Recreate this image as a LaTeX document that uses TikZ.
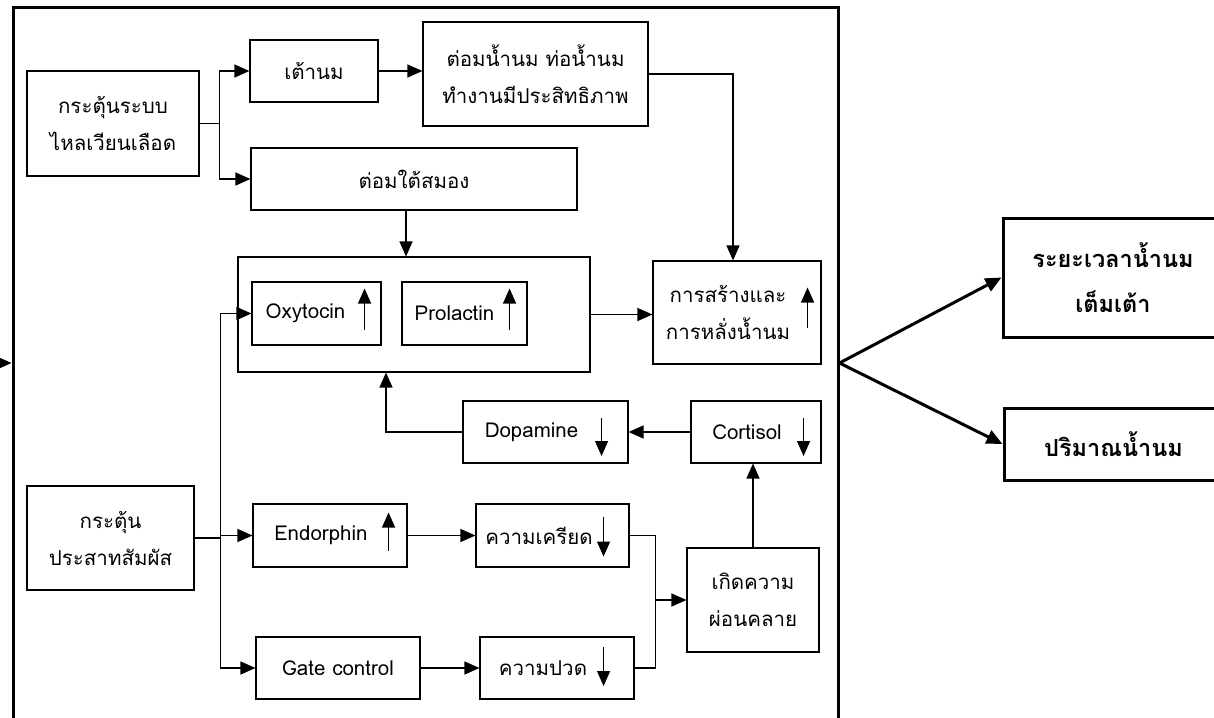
\documentclass[tikz,border=0pt]{standalone}
\usepackage{fontspec}
\newfontfamily\thai[Script=Thai]{Loma}
\usetikzlibrary{arrows.meta,calc}
\begin{document}
\begin{tikzpicture}[x=1pt,y=-1pt,
  every node/.style={font=\thai\fontsize{20.5}{37}\selectfont},
  box/.style={draw,line width=1.1pt,inner sep=0pt},
  box2/.style={box,align=center},
  ln/.style={line width=1.1pt},
  arr/.style={line width=1.2pt,-{Triangle[length=15pt,width=13pt]}},
  big/.style={draw,line width=3pt,inner sep=0pt,align=center,font=\thai\bfseries\fontsize{23.5}{45}\selectfont},
  bigarr/.style={line width=3pt,-{Triangle[length=16pt,width=14pt]}}]
\useasboundingbox (0,0) rectangle (1214,717);

% outer frame (bottom edge lies outside the picture)
\node[draw,line width=3pt,inner sep=0pt,minimum width=825pt,minimum height=780pt] (frame) at (425.5,398) {};

% boxes
\node[box2,minimum width=172pt,minimum height=105pt] (A) at (113,123.5) {กระตุ้นระบบ\\ไหลเวียนเลือด};
\node[box,minimum width=128pt,minimum height=62pt] (teanom) at (314,71) {เต้านม};
\node[box2,minimum width=225pt,minimum height=104pt] (tom) at (535.5,74) {ต่อมน้ำนม ท่อน้ำนม\\ทำงานมีประสิทธิภาพ};
\node[box,minimum width=326pt,minimum height=62pt] (tai) at (414,179) {ต่อมใต้สมอง};
\node[box,minimum width=352pt,minimum height=115pt] (grp) at (414,314.5) {};
\node[box,minimum width=129pt,minimum height=63pt] (oxy) at (316.5,313.5) {Oxytocin\kern22pt};
\node[box,minimum width=125pt,minimum height=63pt] (pro) at (464.5,313.5) {Prolactin\kern20pt};
\node[box2,minimum width=168pt,minimum height=103pt] (sang) at (737,312.5) {การสร้างและ\kern18pt\\การหลั่งน้ำนม\kern18pt};
\node[box,minimum width=165pt,minimum height=62pt] (dopa) at (545.5,432) {Dopamine\kern28pt};
\node[box,minimum width=130pt,minimum height=62pt] (cort) at (756,432) {Cortisol\kern18pt};
\node[box2,minimum width=167pt,minimum height=104pt] (B) at (110.5,538) {กระตุ้น\\ประสาทสัมผัส};
\node[box,minimum width=154pt,minimum height=63pt] (endo) at (330,535.5) {Endorphin\kern18pt};
\node[box,minimum width=153pt,minimum height=63pt] (krieat) at (552.5,535.5) {ความเครียด\kern27pt};
\node[box2,minimum width=132pt,minimum height=104pt] (kerd) at (753,600) {เกิดความ\\ผ่อนคลาย};
\node[box,minimum width=164pt,minimum height=62pt] (gate) at (338,668) {Gate control};
\node[box,minimum width=154pt,minimum height=62pt] (puat) at (557,668) {ความปวด\kern28pt};
\node[big,minimum width=220pt,minimum height=119pt] (out1) at (1113,277.5) {ระยะเวลาน้ำนม\\เต็มเต้า};
\node[big,minimum width=219pt,minimum height=72pt] (out2) at (1113.5,444) {ปริมาณน้ำนม};

% up / down marks inside boxes
\draw[arr] ($(oxy.east)+(-17,16)$) -- ++(0,-41);
\draw[arr] ($(pro.east)+(-18,16)$) -- ++(0,-41);
\draw[arr] ($(sang.east)+(-14,15)$) -- ++(0,-40);
\draw[arr] ($(dopa.east)+(-27,-14)$) -- ++(0,38);
\draw[arr] ($(cort.east)+(-18,-14)$) -- ++(0,38);
\draw[arr] ($(endo.east)+(-19,15)$) -- ++(0,-38);
\draw[arr] ($(krieat.east)+(-26,-19)$) -- ++(0,40);
\draw[arr] ($(puat.east)+(-31,-21)$) -- ++(0,39);

% connectors: circulation branch
\draw[ln] (A.east) -- ++(20,0) coordinate (b1);
\draw[arr] (b1) |- (teanom.west);
\draw[arr] (b1) |- (tai.west);
\draw[arr] (teanom.east) -- (teanom.east -| tom.west);
\draw[arr] (tom.east) -| ([xshift=-4pt]sang.north);
\draw[arr] ([xshift=-8pt]tai.south) -- ([xshift=-8pt]grp.north);
\draw[arr] (grp.east) -- (grp.east -| sang.west);
\draw[arr] (cort.west) -- (dopa.east);
\draw[arr] (dopa.west) -| ([xshift=-28pt]grp.south);
\draw[arr] (kerd.north) -- (kerd.north |- cort.south);

% connectors: sensory branch
\draw[ln] (B.east) -- ++(26,0) coordinate (b2);
\draw[arr] (b2) |- (oxy.west);
\draw[arr] (b2) |- (endo.west);
\draw[arr] (b2) |- (gate.west);
\draw[arr] (endo.east) -- (endo.east -| krieat.west);
\draw[arr] (gate.east) -- (gate.east -| puat.west);
\coordinate (m) at ($(krieat.east)+(26,0)$);
\draw[ln] (krieat.east) -| (m |- kerd.west);
\draw[ln] (puat.east) -| (m |- kerd.west);
\draw[arr] (m |- kerd.west) -- (kerd.west);

% in / out of the frame
\coordinate (h) at (0,363);
\coordinate (inL) at (-30,363);
\draw[arr] (inL) -- (frame.west |- h);
\coordinate (outR) at (frame.east |- h);
\draw[bigarr] (outR) -- (out1.west);
\draw[bigarr] (outR) -- (out2.west);
\end{tikzpicture}
\end{document}
